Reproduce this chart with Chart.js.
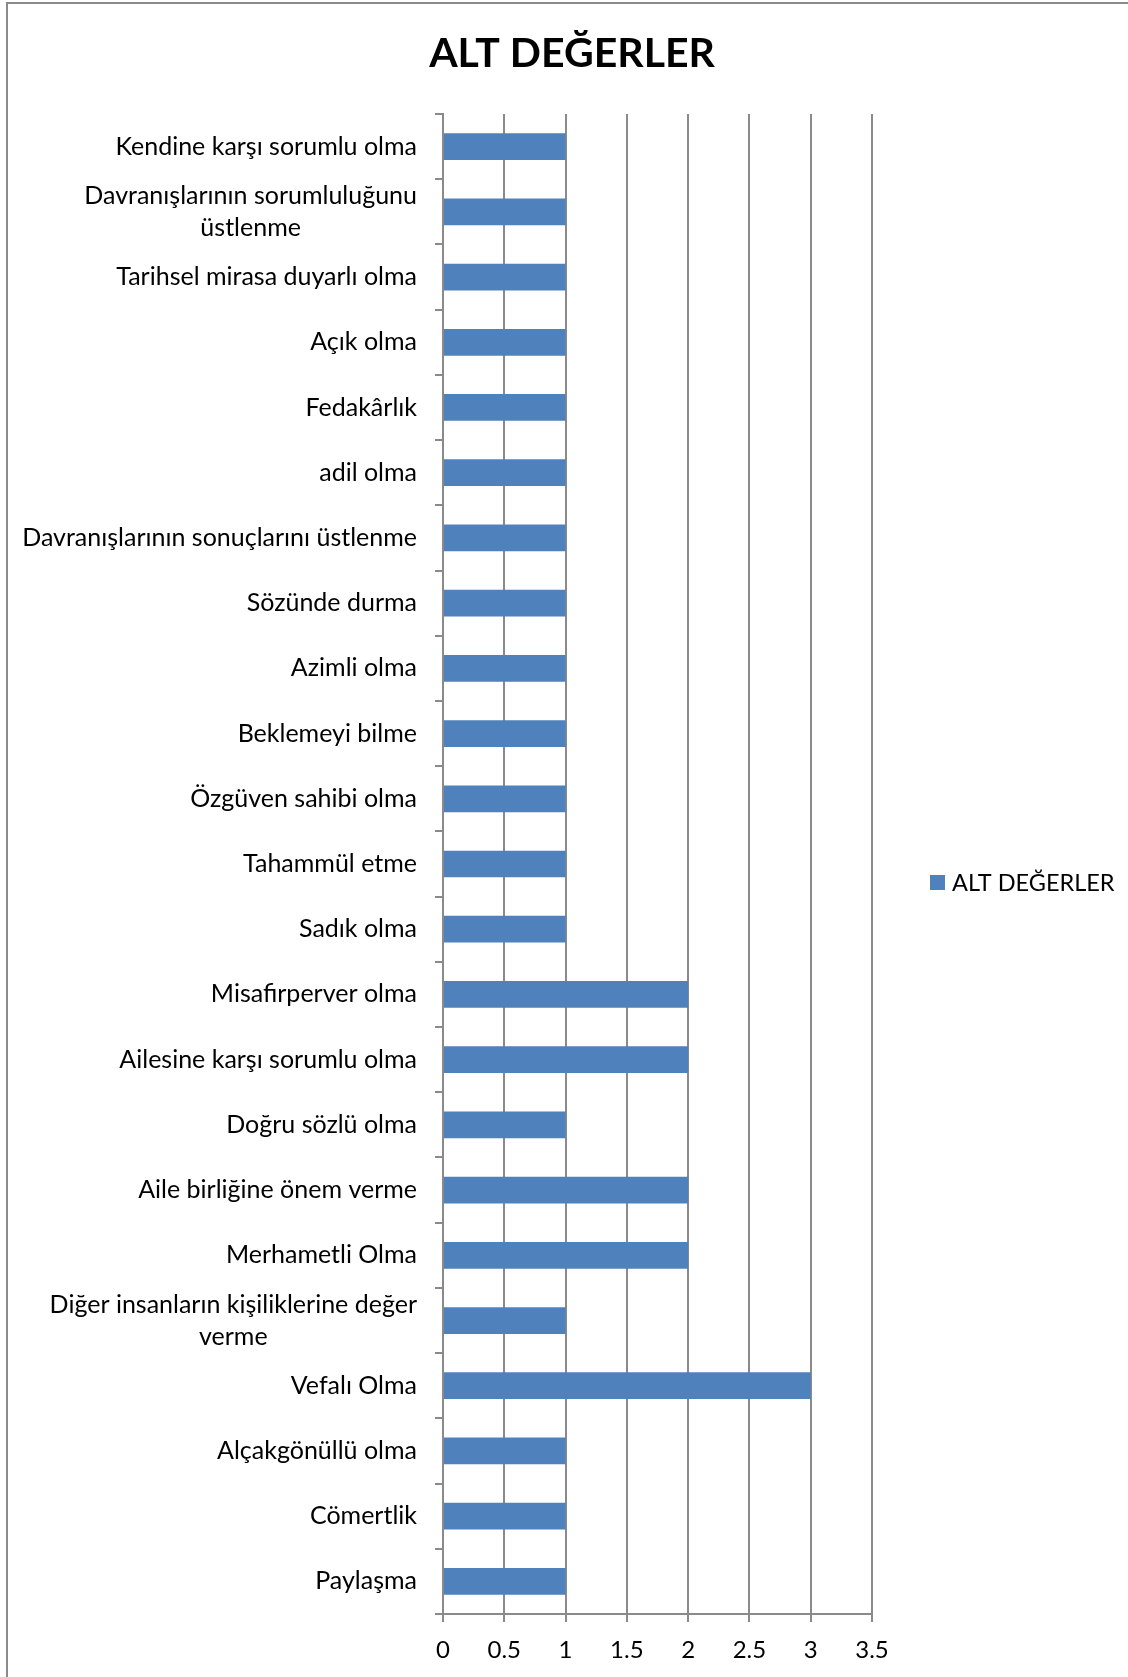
<!DOCTYPE html>
<html>
<head>
<meta charset="utf-8">
<script src="https://cdn.jsdelivr.net/npm/chart.js@4"></script>
<style>
  html, body { margin: 0; padding: 0; background: #fff; }
  #wrap { position: relative; width: 1128px; height: 1677px; }
  #frame { position: absolute; left: 6px; top: 2px; right: -10px; bottom: -10px;
           border-left: 2px solid #8a8a8a; border-top: 2px solid #8a8a8a; }
  canvas { position: absolute; left: 0; top: 0; }
</style>
</head>
<body>
<div id="wrap">
  <div id="frame"></div>
  <canvas id="chart" width="1128" height="1677"></canvas>
</div>
<script>
// Chart data (top to bottom, as in the picture)
const chartTitle = 'ALT DEĞERLER';
const seriesName = 'ALT DEĞERLER';
const categories = [
  'Kendine karşı sorumlu olma',
  ['Davranışlarının sorumluluğunu', 'üstlenme'],
  'Tarihsel mirasa duyarlı olma',
  'Açık olma',
  'Fedakârlık',
  'adil olma',
  'Davranışlarının sonuçlarını üstlenme',
  'Sözünde durma',
  'Azimli olma',
  'Beklemeyi bilme',
  'Özgüven sahibi olma',
  'Tahammül etme',
  'Sadık olma',
  'Misafirperver olma',
  'Ailesine karşı sorumlu olma',
  'Doğru sözlü olma',
  'Aile birliğine önem verme',
  'Merhametli Olma',
  ['Diğer insanların kişiliklerine değer', 'verme'],
  'Vefalı Olma',
  'Alçakgönüllü olma',
  'Cömertlik',
  'Paylaşma'
];
const values = [1, 1, 1, 1, 1, 1, 1, 1, 1, 1, 1, 1, 1, 2, 2, 1, 2, 2, 1, 3, 1, 1, 1];
const xTicks = [0, 0.5, 1, 1.5, 2, 2.5, 3, 3.5];

const barColor = '#4F81BD';
const gridColor = '#8a8a8a';
const fontFamily = 'Lato, "Open Sans", sans-serif';

// draws title, y labels (block right-aligned, lines centred) and legend
const extrasPlugin = {
  id: 'extras',
  afterDraw(chart) {
    const ctx = chart.ctx;
    const yScale = chart.scales.y;
    ctx.save();
    ctx.fillStyle = '#000';

    // title
    ctx.font = 'bold 41px ' + fontFamily;
    ctx.textAlign = 'center';
    ctx.textBaseline = 'middle';
    ctx.fillText(chartTitle, 572, 54);

    // category labels
    ctx.font = '25px ' + fontFamily;
    const lineH = 32;
    const rightX = yScale.right - 26;
    categories.forEach((label, i) => {
      const lines = Array.isArray(label) ? label : [label];
      const blockW = Math.max(...lines.map(l => ctx.measureText(l).width));
      const cy = yScale.getPixelForValue(i);
      const startY = cy - (lines.length - 1) * lineH / 2;
      lines.forEach((line, j) => {
        ctx.textAlign = 'center';
        ctx.fillText(line, rightX - blockW / 2, startY + j * lineH);
      });
    });

    // legend
    ctx.font = '23.5px ' + fontFamily;
    const ly = (chart.chartArea.top + chart.chartArea.bottom) / 2 + 18;
    ctx.fillStyle = barColor;
    ctx.fillRect(930, ly - 7, 15, 15);
    ctx.fillStyle = '#000';
    ctx.textAlign = 'left';
    ctx.fillText(seriesName, 952, ly + 1);
    ctx.restore();
  }
};

const ctx = document.getElementById('chart').getContext('2d');
new Chart(ctx, {
  type: 'bar',
  data: {
    labels: categories,
    datasets: [{
      label: seriesName,
      data: values,
      backgroundColor: barColor,
      borderWidth: 0,
      categoryPercentage: 1,
      barPercentage: 0.41
    }]
  },
  options: {
    indexAxis: 'y',
    responsive: false,
    animation: false,
    layout: { padding: { top: 114, right: 256, left: 0, bottom: 0 } },
    plugins: {
      legend: { display: false },
      title: { display: false },
      tooltip: { enabled: false }
    },
    scales: {
      x: {
        min: 0,
        max: 3.5,
        afterBuildTicks: scale => { scale.ticks = xTicks.map(v => ({ value: v })); },
        afterFit: scale => { scale.height = 63; },
        grid: { color: gridColor, lineWidth: 2, tickLength: 8, drawTicks: true },
        border: { color: gridColor, width: 2 },
        ticks: {
          color: '#000',
          padding: 14,
          font: { family: fontFamily, size: 24 },
          callback: v => String(v)
        }
      },
      y: {
        afterFit: scale => { scale.width = 443; },
        grid: { color: gridColor, lineWidth: 2, tickLength: 8, offset: true,
                drawOnChartArea: false, drawTicks: true },
        border: { color: gridColor, width: 2 },
        ticks: { display: false }
      }
    }
  },
  plugins: [extrasPlugin]
});
</script>
</body>
</html>
